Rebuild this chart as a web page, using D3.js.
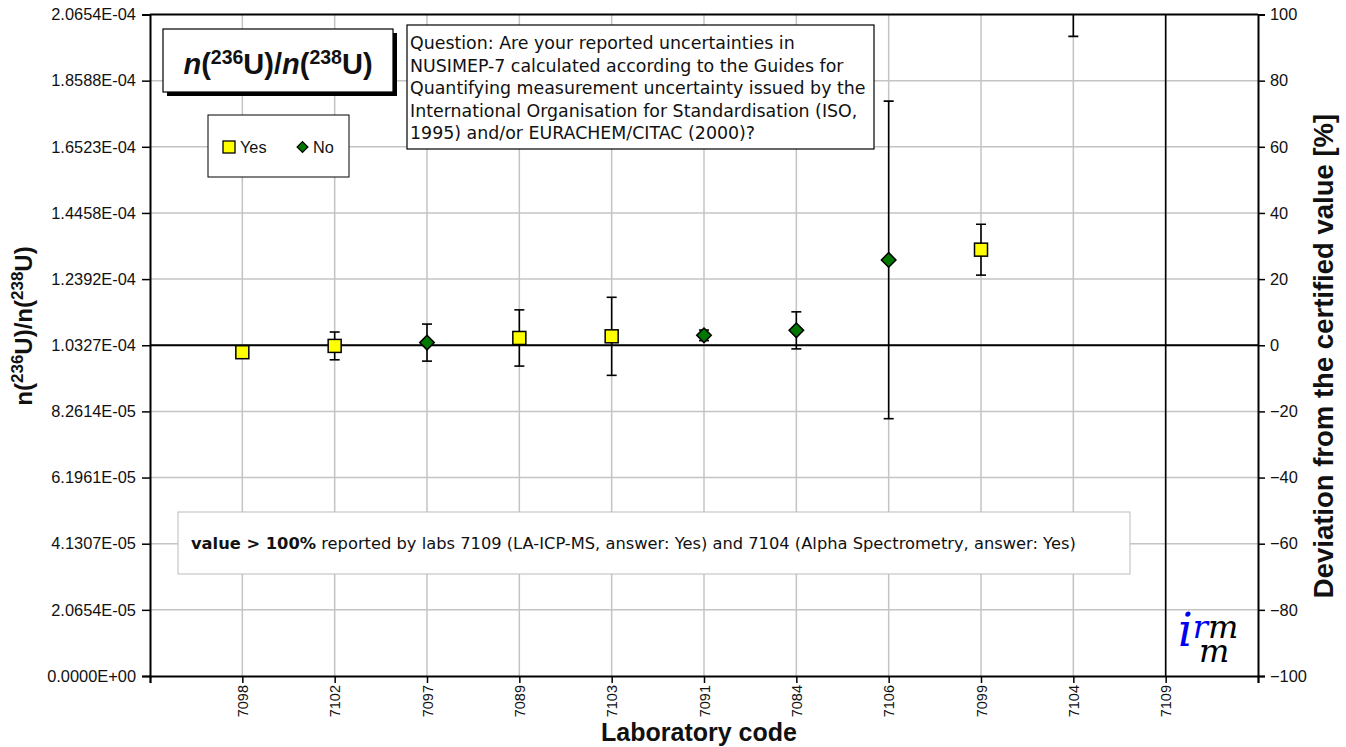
<!DOCTYPE html>
<html>
<head>
<meta charset="utf-8" />
<title>n(236U)/n(238U)</title>
<style>
  body { margin: 0; background: #fff; }
  text { font-family: "Liberation Sans", Arial, sans-serif; fill: #111; }
  .verd { font-family: "DejaVu Sans", Verdana, sans-serif; }
</style>
</head>
<body>
<svg id="chart" width="1346" height="747"></svg>
<script src="https://d3js.org/d3.v7.min.js"></script>
<script>
// lab codes in plotting order
var labs = ["7098", "7102", "7097", "7089", "7103", "7091", "7084", "7106", "7099", "7104", "7109"];
// deviation from certified value [%]
var deviation = [-2.1, -0.2, 0.8, 2.2, 2.7, 3.0, 4.5, 25.8, 28.9, 130, 600];
// expanded uncertainty [%]
var uncertainty = [0, 4.2, 5.6, 8.5, 11.8, 1.6, 5.6, 48, 7.7, 36.6, 900];
// answer to the question
var answers = ["Yes", "Yes", "No", "Yes", "Yes", "No", "No", "No", "Yes", "Yes", "Yes"];

var certified = 1.03268e-4;
var leftTicks = d3.range(0, 11).map(function(i) { return i * certified / 5; });
var rightTicks = [-100, -80, -60, -40, -20, 0, 20, 40, 60, 80, 100];

var questionLines = [
  "Question: Are your reported uncertainties in",
  "NUSIMEP-7 calculated according to the Guides for",
  "Quantifying measurement uncertainty issued by the",
  "International Organisation for Standardisation (ISO,",
  "1995) and/or EURACHEM/CITAC (2000)?"
];

var L = 150, R = 1258, T = 14.5, B = 676;
var svg = d3.select("#chart");

var x = d3.scaleLinear().domain([0, labs.length + 1]).range([L, R]);
var yPct = d3.scaleLinear().domain([-100, 100]).range([B, T]);
var yAbs = d3.scaleLinear().domain([0, 2 * certified]).range([B, T]);

svg.append("defs").append("clipPath").attr("id", "plot")
  .append("rect").attr("x", L).attr("y", T).attr("width", R - L).attr("height", B - T);

// grid
svg.append("g").selectAll("line").data(rightTicks.slice(1, -1)).enter().append("line")
  .attr("x1", L).attr("x2", R)
  .attr("y1", function(d) { return yPct(d); }).attr("y2", function(d) { return yPct(d); })
  .attr("stroke", "#c4c4c4").attr("stroke-width", 1.5);
svg.append("g").selectAll("line").data(labs).enter().append("line")
  .attr("x1", function(d, i) { return x(i + 1); }).attr("x2", function(d, i) { return x(i + 1); })
  .attr("y1", T).attr("y2", B)
  .attr("stroke", "#c4c4c4").attr("stroke-width", 1.5);

// certified value line
svg.append("line").attr("x1", L).attr("x2", R).attr("y1", yPct(0)).attr("y2", yPct(0))
  .attr("stroke", "#000").attr("stroke-width", 2);

// axes
function sci(d) {
  return d.toExponential(4).toUpperCase().replace(/E([+-])(\d)$/, "E$10$2");
}
var leftAxis = svg.append("g").attr("transform", "translate(" + L + ",0)")
  .call(d3.axisLeft(yAbs).tickValues(leftTicks).tickSize(8).tickPadding(6).tickFormat(sci));
var rightAxis = svg.append("g").attr("transform", "translate(" + R + ",0)")
  .call(d3.axisRight(yPct).tickValues(rightTicks).tickSize(7).tickPadding(5).tickFormat(d3.format("d")));
var bottomAxis = svg.append("g").attr("transform", "translate(0," + B + ")")
  .call(d3.axisBottom(x).tickValues(d3.range(0, labs.length + 2)).tickSize(7)
    .tickFormat(function(d) { return labs[d - 1] || ""; }));
svg.append("line").attr("x1", L).attr("x2", R).attr("y1", T).attr("y2", T)
  .attr("stroke", "#000").attr("stroke-width", 2);

[leftAxis, rightAxis, bottomAxis].forEach(function(a) {
  a.select(".domain").attr("stroke-width", 2).attr("stroke", "#000");
  a.selectAll(".tick line").attr("stroke", "#000").attr("stroke-width", 1.5);
  a.selectAll("text").style("font-family", "Liberation Sans, Arial, sans-serif").style("font-size", "16.4px").attr("fill", "#111");
});
bottomAxis.selectAll("text").style("font-size", "14.5px")
  .attr("transform", "rotate(-90)").attr("text-anchor", "end")
  .attr("x", -9).attr("y", 0).attr("dy", "0.35em");

// error bars
var eg = svg.append("g").attr("clip-path", "url(#plot)");
labs.forEach(function(lab, i) {
  var u = uncertainty[i];
  if (!u) return;
  var cx = x(i + 1), y1 = yPct(deviation[i] + u), y2 = yPct(deviation[i] - u);
  eg.append("line").attr("x1", cx).attr("x2", cx).attr("y1", y1).attr("y2", y2)
    .attr("stroke", "#000").attr("stroke-width", 1.6);
  [y1, y2].forEach(function(yy) {
    eg.append("line").attr("x1", cx - 5).attr("x2", cx + 5).attr("y1", yy).attr("y2", yy)
      .attr("stroke", "#000").attr("stroke-width", 1.6);
  });
});

// markers
var mg = svg.append("g").attr("clip-path", "url(#plot)");
labs.forEach(function(lab, i) {
  var cx = x(i + 1), cy = yPct(deviation[i]);
  if (answers[i] == "Yes") {
    mg.append("rect").attr("x", cx - 6.5).attr("y", cy - 6.5).attr("width", 13).attr("height", 13)
      .attr("fill", "#ffff00").attr("stroke", "#000").attr("stroke-width", 1.5);
  } else {
    mg.append("path").attr("d", d3.symbol().type(d3.symbolDiamond2).size(135)())
      .attr("transform", "translate(" + cx + "," + cy + ")")
      .attr("fill", "#007800").attr("stroke", "#000").attr("stroke-width", 1.5);
  }
});

// title box
svg.append("rect").attr("x", 167).attr("y", 33).attr("width", 230).attr("height", 63).attr("fill", "#000");
svg.append("rect").attr("x", 163).attr("y", 29).attr("width", 230).attr("height", 63)
  .attr("fill", "#fff").attr("stroke", "#000").attr("stroke-width", 1.2);
var title = svg.append("text").attr("x", 278).attr("y", 74).attr("text-anchor", "middle")
  .style("font-size", "29px").style("font-weight", "bold");
title.append("tspan").style("font-style", "italic").text("n");
title.append("tspan").text("(");
title.append("tspan").attr("dy", -10).style("font-size", "19.5px").text("236");
title.append("tspan").attr("dy", 10).text("U)/");
title.append("tspan").style("font-style", "italic").text("n");
title.append("tspan").text("(");
title.append("tspan").attr("dy", -10).style("font-size", "19.5px").text("238");
title.append("tspan").attr("dy", 10).text("U)");

// legend
svg.append("rect").attr("x", 208).attr("y", 115).attr("width", 141).attr("height", 62)
  .attr("fill", "#fff").attr("stroke", "#000").attr("stroke-width", 1);
svg.append("rect").attr("x", 223).attr("y", 141).attr("width", 12).attr("height", 12)
  .attr("fill", "#ffff00").attr("stroke", "#000").attr("stroke-width", 1.3);
svg.append("text").attr("x", 240).attr("y", 153).style("font-size", "16.3px").text("Yes");
svg.append("path").attr("d", d3.symbol().type(d3.symbolDiamond2).size(75)())
  .attr("transform", "translate(302.5,147)")
  .attr("fill", "#007800").attr("stroke", "#000").attr("stroke-width", 1.2);
svg.append("text").attr("x", 313).attr("y", 153).style("font-size", "16.3px").text("No");

// question box
svg.append("rect").attr("x", 407).attr("y", 25).attr("width", 467).attr("height", 124)
  .attr("fill", "#fff").attr("stroke", "#000").attr("stroke-width", 1.2);
svg.append("g").selectAll("text").data(questionLines).enter().append("text")
  .attr("class", "verd").attr("x", 410).attr("y", function(d, i) { return 49 + i * 22.6; })
  .style("font-size", "17.4px").text(function(d) { return d; });

// note box
svg.append("rect").attr("x", 178).attr("y", 512).attr("width", 952).attr("height", 62)
  .attr("fill", "#fff").attr("stroke", "#bbb").attr("stroke-width", 1);
var note = svg.append("text").attr("class", "verd").attr("x", 191).attr("y", 549).style("font-size", "16.3px");
note.append("tspan").style("font-weight", "bold").text("value > 100%");
note.append("tspan").text(" reported by labs 7109 (LA-ICP-MS, answer: Yes) and 7104 (Alpha Spectrometry, answer: Yes)");

// axis titles
var yl = svg.append("text").attr("transform", "translate(32,326) rotate(-90)")
  .attr("text-anchor", "middle").style("font-size", "24px").style("font-weight", "bold");
yl.append("tspan").text("n(");
yl.append("tspan").attr("dy", -9).style("font-size", "17px").text("236");
yl.append("tspan").attr("dy", 9).text("U)/n(");
yl.append("tspan").attr("dy", -9).style("font-size", "17px").text("238");
yl.append("tspan").attr("dy", 9).text("U)");

svg.append("text").attr("transform", "translate(1333,356) rotate(-90)")
  .attr("text-anchor", "middle").style("font-size", "27.5px").style("font-weight", "bold")
  .text("Deviation from the certified value [%]");

svg.append("text").attr("x", 699).attr("y", 741).attr("text-anchor", "middle")
  .style("font-size", "25px").style("font-weight", "bold").text("Laboratory code");

// irmm logo
var logo = svg.append("text").attr("x", 1178).attr("y", 646)
  .style("font-family", "DejaVu Serif, serif").style("font-style", "italic").style("font-size", "32px");
logo.append("tspan").attr("fill", "#0000ee").style("font-size", "46px").text("i");
logo.append("tspan").attr("fill", "#0000ee").attr("dy", -8).text("r");
logo.append("tspan").attr("fill", "#000").text("m");
logo.append("tspan").attr("fill", "#000").attr("x", 1199).attr("dy", 24).text("m");
</script>
</body>
</html>
